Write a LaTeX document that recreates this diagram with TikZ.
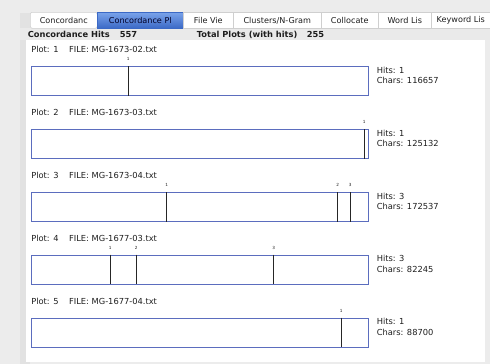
\documentclass[tikz,border=0pt]{standalone}
\usepackage{fontspec}
\setmainfont{DejaVu Sans}
\usetikzlibrary{positioning}

\definecolor{winbg}{HTML}{ECECEC}
\definecolor{edgebg}{HTML}{E2E2E2}
\definecolor{hdrbg}{HTML}{EAEAEA}
\definecolor{tabline}{HTML}{CFCFCF}
\definecolor{tabtop}{HTML}{7AA3EA}
\definecolor{tabbot}{HTML}{3B69C6}
\definecolor{boxblue}{HTML}{5B6DBE}
\definecolor{ink}{HTML}{1E1E1E}

\begin{document}
\begin{tikzpicture}[x=1pt,y=-1pt,semithick,font=\fontsize{8.3}{9}\selectfont,text=ink]
      \tikzstyle{tab}=[draw=tabline,fill=white,line width=0.6pt,minimum height=16pt,inner sep=0pt,anchor=north west,font=\fontsize{8.1}{9}\selectfont]
      \tikzstyle{seltab}=[tab,draw=tabbot,top color=tabtop,bottom color=tabbot,text=black!85!blue]
      \tikzstyle{hdr}=[anchor=west,inner sep=0pt,font=\fontsize{8.3}{9}\selectfont\bfseries]
      \tikzstyle{plotlabel}=[anchor=west,inner sep=0pt]
      \tikzstyle{plotbox}=[draw=boxblue,line width=0.9pt,fill=white,minimum width=337pt,minimum height=29pt,inner sep=0pt,anchor=north west]
      \tikzstyle{tick}=[inner sep=0pt,font=\fontsize{4.2}{5}\selectfont]
      \tikzstyle{hitmark}=[draw=black!85,line width=1.2pt]
      \tikzstyle{hits}=[anchor=north west,inner sep=0pt,align=left,font=\fontsize{8.3}{10.5}\selectfont]

      % window
      \useasboundingbox (0,0) rectangle (490,364);
      \fill[winbg] (0,0) rectangle (490,364);
      \fill[edgebg] (20,13) rectangle (30,364);
      \fill[hdrbg] (20,28) rectangle (490,40);
      \fill[white] (26,40) rectangle (485,362);

      % tabs
      \node[tab,minimum width=67pt,rounded corners=2pt] (tconc) at (30,12) {Concordanc};
      \node[seltab,minimum width=86pt] (tplot) at (97,12) {Concordance Pl};
      \node[tab,minimum width=50pt] (tfile) at (183,12) {File Vie};
      \node[tab,minimum width=88pt] (tclus) at (233,12) {Clusters/N-Gram};
      \node[tab,minimum width=57pt] (tcoll) at (321,12) {Collocate};
      \node[tab,minimum width=53pt] (tword) at (378,12) {Word Lis};
      \node[tab,minimum width=59pt] (tkey) at (431,12) {Keyword Lis};

      % header
      \node[hdr] (hits) at (27.5,34.5) {Concordance Hits};
      \node[hdr] (nhits) at (119.5,34.5) {557};
      \node[hdr] (plots) at (196.5,34.5) {Total Plots (with hits)};
      \node[hdr] (nplots) at (306.5,34.5) {255};

      % plot 1
      \node[plotlabel] (p1) at (31,49.5) {Plot: 1};
      \node[plotlabel, right=10pt of p1] (f1) {FILE: MG-1673-02.txt};
      \node[plotbox] (box1) at (31,66) {};
      \node[tick] (t11) at (128.3,58.5) {1};
      \draw[hitmark] (box1.north -| t11) -- (box1.south -| t11);
      \node[hits] (h1) at (376.5,66.5) {Hits: 1\\Chars: 116657};

      % plot 2
      \node[plotlabel] (p2) at (31,112) {Plot: 2};
      \node[plotlabel, right=10pt of p2] (f2) {FILE: MG-1673-03.txt};
      \node[plotbox] (box2) at (31,129) {};
      \node[tick] (t21) at (364.3,121.5) {1};
      \draw[hitmark] (box2.north -| t21) -- (box2.south -| t21);
      \node[hits] (h2) at (376.5,129.5) {Hits: 1\\Chars: 125132};

      % plot 3
      \node[plotlabel] (p3) at (31,175) {Plot: 3};
      \node[plotlabel, right=10pt of p3] (f3) {FILE: MG-1673-04.txt};
      \node[plotbox] (box3) at (31,192) {};
      \node[tick] (t31) at (166.8,184.5) {1};
      \node[tick] (t32) at (337.7,184.5) {2};
      \node[tick] (t33) at (350.3,184.5) {3};
      \draw[hitmark] (box3.north -| t31) -- (box3.south -| t31);
      \draw[hitmark] (box3.north -| t32) -- (box3.south -| t32);
      \draw[hitmark] (box3.north -| t33) -- (box3.south -| t33);
      \node[hits] (h3) at (376.5,192.5) {Hits: 3\\Chars: 172537};

      % plot 4
      \node[plotlabel] (p4) at (31,238) {Plot: 4};
      \node[plotlabel, right=10pt of p4] (f4) {FILE: MG-1677-03.txt};
      \node[plotbox] (box4) at (31,254.5) {};
      \node[tick] (t41) at (110.3,247.5) {1};
      \node[tick] (t42) at (136.3,247.5) {2};
      \node[tick] (t43) at (273.7,247.5) {3};
      \draw[hitmark] (box4.north -| t41) -- (box4.south -| t41);
      \draw[hitmark] (box4.north -| t42) -- (box4.south -| t42);
      \draw[hitmark] (box4.north -| t43) -- (box4.south -| t43);
      \node[hits] (h4) at (376.5,255) {Hits: 3\\Chars: 82245};

      % plot 5
      \node[plotlabel] (p5) at (31,301) {Plot: 5};
      \node[plotlabel, right=10pt of p5] (f5) {FILE: MG-1677-04.txt};
      \node[plotbox] (box5) at (31,317.5) {};
      \node[tick] (t51) at (341.3,310.5) {1};
      \draw[hitmark] (box5.north -| t51) -- (box5.south -| t51);
      \node[hits] (h5) at (376.5,318) {Hits: 1\\Chars: 88700};
\end{tikzpicture}
\end{document}
